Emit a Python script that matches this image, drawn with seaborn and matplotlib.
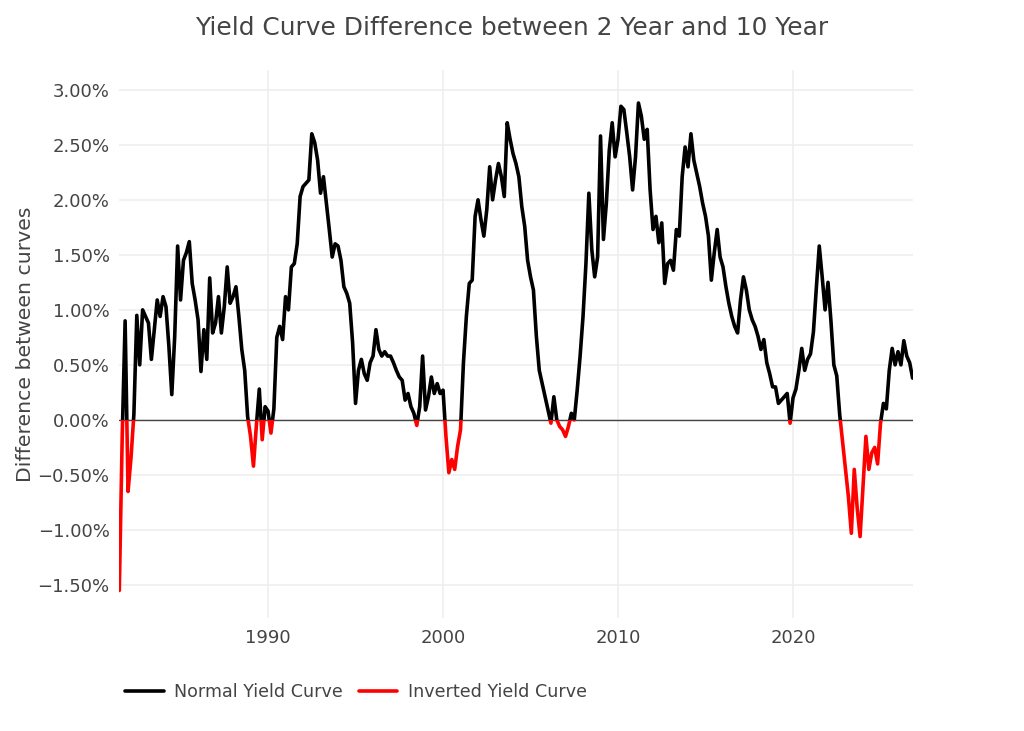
import numpy as np
import pandas as pd
import matplotlib
matplotlib.use("Agg")
import matplotlib.pyplot as plt
import matplotlib.patches as mpatches
from matplotlib.ticker import FuncFormatter, FixedLocator
import seaborn as sns

# 10y minus 2y spread (%), one reading every two months from Jul 1981
spread = [
    -1.55, -0.15, 0.90,                       # 1981 (Jul, Sep, Nov)
    -0.65, -0.35, 0.05, 0.95, 0.50, 1.00,     # 1982
    0.94, 0.88, 0.55, 0.82, 1.09, 0.94,       # 1983
    1.12, 1.03, 0.67, 0.23, 0.76, 1.58,       # 1984
    1.09, 1.45, 1.52, 1.62, 1.24, 1.09,       # 1985
    0.91, 0.44, 0.82, 0.55, 1.29, 0.79,       # 1986
    0.88, 1.12, 0.79, 1.03, 1.39, 1.06,       # 1987
    1.12, 1.21, 0.94, 0.64, 0.45, 0.03,       # 1988
    -0.15, -0.42, -0.05, 0.28, -0.18, 0.12,   # 1989
    0.08, -0.12, 0.10, 0.75, 0.85, 0.73,      # 1990
    1.12, 1.00, 1.39, 1.42, 1.60, 2.03,       # 1991
    2.12, 2.15, 2.18, 2.60, 2.52, 2.36,       # 1992
    2.06, 2.21, 1.97, 1.73, 1.48, 1.60,       # 1993
    1.58, 1.45, 1.21, 1.15, 1.06, 0.70,       # 1994
    0.15, 0.45, 0.55, 0.42, 0.36, 0.52,       # 1995
    0.58, 0.82, 0.64, 0.58, 0.62, 0.58,       # 1996
    0.58, 0.52, 0.45, 0.39, 0.36, 0.18,       # 1997
    0.24, 0.12, 0.06, -0.05, 0.12, 0.58,      # 1998
    0.09, 0.21, 0.39, 0.24, 0.33, 0.24,       # 1999
    0.27, -0.15, -0.48, -0.36, -0.45, -0.24,  # 2000
    -0.09, 0.52, 0.94, 1.24, 1.27, 1.85,      # 2001
    2.00, 1.82, 1.67, 1.91, 2.30, 2.00,       # 2002
    2.18, 2.33, 2.21, 2.03, 2.70, 2.55,       # 2003
    2.42, 2.33, 2.21, 1.94, 1.76, 1.45,       # 2004
    1.30, 1.18, 0.76, 0.45, 0.33, 0.21,       # 2005
    0.09, -0.03, 0.21, 0.00, -0.06, -0.09,    # 2006
    -0.15, -0.06, 0.06, 0.00, 0.27, 0.58,     # 2007
    0.94, 1.42, 2.06, 1.55, 1.30, 1.48,       # 2008
    2.58, 1.64, 1.97, 2.45, 2.70, 2.39,       # 2009
    2.55, 2.85, 2.82, 2.61, 2.39, 2.09,       # 2010
    2.39, 2.88, 2.76, 2.55, 2.64, 2.09,       # 2011
    1.73, 1.85, 1.61, 1.79, 1.24, 1.42,       # 2012
    1.45, 1.36, 1.73, 1.67, 2.21, 2.48,       # 2013
    2.30, 2.60, 2.36, 2.24, 2.12, 1.97,       # 2014
    1.85, 1.67, 1.27, 1.52, 1.73, 1.48,       # 2015
    1.39, 1.21, 1.06, 0.94, 0.85, 0.79,       # 2016
    1.09, 1.30, 1.18, 1.00, 0.91, 0.85,       # 2017
    0.76, 0.64, 0.73, 0.52, 0.42, 0.30,       # 2018
    0.30, 0.15, 0.18, 0.21, 0.24, -0.03,      # 2019
    0.20, 0.28, 0.45, 0.65, 0.45, 0.55,       # 2020
    0.60, 0.80, 1.20, 1.58, 1.30, 1.00,       # 2021
    1.25, 0.90, 0.50, 0.40, 0.05, -0.20,      # 2022
    -0.45, -0.70, -1.03, -0.45, -0.80, -1.06, # 2023
    -0.60, -0.15, -0.45, -0.30, -0.25, -0.40, # 2024
    -0.03, 0.15, 0.10, 0.45, 0.65, 0.50,      # 2025
    0.62, 0.50, 0.72, 0.58, 0.52, 0.38,       # 2026
]
years = 1981.5 + np.arange(len(spread)) / 6

year_ticks = [1990, 2000, 2010, 2020]
pct_ticks = [-1.5, -1.0, -0.5, 0.0, 0.5, 1.0, 1.5, 2.0, 2.5, 3.0]

df = pd.DataFrame({"year": years, "spread": spread})

sns.set_style("white")
plt.rcParams["font.family"] = ["DejaVu Sans"]
text_color = "#444444"

fig = plt.figure(figsize=(10.24, 7.31), dpi=100)
ax = fig.add_axes([0.1165, 0.1546, 0.7747, 0.7497])

x0, x1 = years[0], years[-1]

# same series twice: black kept above zero, red kept below zero
sns.lineplot(data=df, x="year", y="spread", estimator=None, color="black",
             lw=2.6, ax=ax, label="Normal Yield Curve", zorder=3)
normal_line = ax.lines[-1]
sns.lineplot(data=df, x="year", y="spread", estimator=None, color="#ff0000",
             lw=2.6, ax=ax, label="Inverted Yield Curve", zorder=3)
inverted_line = ax.lines[-1]
normal_line.set_clip_path(mpatches.Rectangle((x0, 0), x1 - x0, 50, transform=ax.transData))
inverted_line.set_clip_path(mpatches.Rectangle((x0, -50), x1 - x0, 50, transform=ax.transData))

ax.axhline(0, color=text_color, lw=1.0, zorder=2)

ax.set_xlim(x0, x1)
ax.set_ylim(-1.8, 3.18)
ax.xaxis.set_major_locator(FixedLocator(year_ticks))
ax.yaxis.set_major_locator(FixedLocator(pct_ticks))
ax.xaxis.set_major_formatter(FuncFormatter(lambda v, p: f"{v:.0f}"))
ax.yaxis.set_major_formatter(FuncFormatter(lambda v, p: f"{v:.2f}%".replace("-", "\u2212")))
ax.grid(True, color="#eeeeee", lw=1.1)
ax.set_axisbelow(True)
for s in ax.spines.values():
    s.set_visible(False)
ax.tick_params(length=0, labelsize=13, colors=text_color)
ax.tick_params(axis="y", pad=7)
ax.tick_params(axis="x", pad=8)

ax.set_xlabel("")
ax.set_ylabel("Difference between curves", fontsize=14.7, color=text_color)
ax.yaxis.set_label_coords(-0.106, 0.5)

fig.text(0.5, 1 - 28 / 731, "Yield Curve Difference between 2 Year and 10 Year",
         ha="center", va="center", fontsize=17.9, color=text_color)

handles, labels = ax.get_legend_handles_labels()
ax.get_legend().remove()
fig.legend(handles, labels, loc="center left", bbox_to_anchor=(125 / 1024, 1 - 692 / 731),
           ncol=2, frameon=False, fontsize=12.6, handlelength=2.2, handletextpad=0.6,
           columnspacing=0.9, borderpad=0, borderaxespad=0, labelcolor=text_color)

plt.savefig("out.png", dpi=100)
